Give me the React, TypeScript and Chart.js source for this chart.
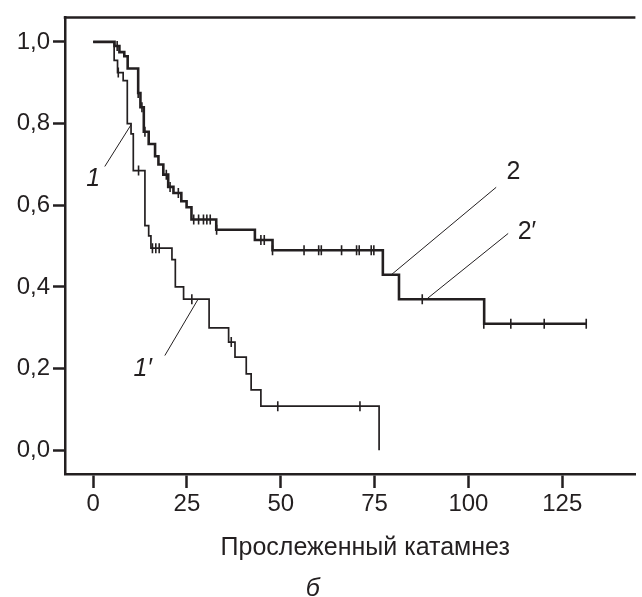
import React, { useEffect, useRef } from "react";
import { Chart, registerables } from "chart.js";

Chart.register(...registerables);

// Curve 2 (upper, thick) – Kaplan–Meier steps
const upperTimes = [0, 5.7, 7.0, 8.3, 9.2, 12.0, 12.6, 13.5, 14.8, 16.5, 17.4, 18.7, 20.0, 21.4, 23.5, 24.9, 26.2, 32.8, 43.1, 47.8, 77.2, 81.5, 104.2, 131.6];
const upperSurv = [1.0, 0.99, 0.975, 0.965, 0.935, 0.875, 0.84, 0.78, 0.75, 0.72, 0.7, 0.675, 0.645, 0.63, 0.61, 0.595, 0.565, 0.54, 0.515, 0.49, 0.43, 0.37, 0.31, 0.31];

// Curve 1 (lower, thin)
const lowerTimes = [0, 5.6, 6.5, 8.0, 9.1, 10.1, 10.7, 13.8, 14.8, 15.4, 21.0, 21.9, 24.1, 30.9, 36.1, 37.8, 40.8, 42.1, 44.7, 76.2];
const lowerSurv = [1.0, 0.955, 0.925, 0.905, 0.8, 0.775, 0.685, 0.55, 0.525, 0.495, 0.467, 0.4, 0.37, 0.3, 0.265, 0.228, 0.187, 0.148, 0.108, 0.0];

// Censored observations
const upperCensorTimes = [6.4, 12.0, 13.0, 13.8, 19.5, 20.5, 22.7, 26.8, 28.1, 29.4, 30.3, 31.2, 32.9, 44.7, 45.6, 47.8, 56.2, 60.1, 60.8, 66.2, 70.2, 70.9, 74.1, 74.8, 87.7, 104.1, 111.3, 120.2, 131.4];
const upperCensorSurv = [0.99, 0.875, 0.84, 0.78, 0.675, 0.645, 0.63, 0.565, 0.565, 0.565, 0.565, 0.565, 0.54, 0.515, 0.515, 0.49, 0.49, 0.49, 0.49, 0.49, 0.49, 0.49, 0.49, 0.49, 0.37, 0.31, 0.31, 0.31, 0.31];
const lowerCensorTimes = [6.7, 12.1, 15.8, 16.7, 17.6, 26.3, 36.8, 49.2, 71.1];
const lowerCensorSurv = [0.925, 0.685, 0.495, 0.495, 0.495, 0.37, 0.265, 0.108, 0.108];

// Leader lines for curve labels [t1, s1, t2, s2]
const leaderLines = [
  [3.1, 0.695, 10.1, 0.797],
  [19.1, 0.232, 27.9, 0.369],
  [107.4, 0.644, 79.6, 0.431],
  [110.6, 0.531, 89.1, 0.372],
];
const curveLabels = ["1", "1′", "2", "2′"];
const curveLabelTimes = [0, 13.2, 112, 115.6];
const curveLabelSurv = [0.665, 0.198, 0.682, 0.535];
const curveLabelItalic = [true, true, false, false];

const xTickValues = [0, 25, 50, 75, 100, 125];
const yTickValues = [0, 0.2, 0.4, 0.6, 0.8, 1.0];
const xTitle = "Прослеженный катамнез";
const caption = "б";

const INK = "#231f20";
const FONT = '"Liberation Sans", Arial, sans-serif';

export default function App() {
  const ref = useRef<HTMLCanvasElement | null>(null);

  useEffect(() => {
    document.body.style.margin = "0";
    const canvas = ref.current;
    if (!canvas) return;

    const toPts = (xs: number[], ys: number[]) => xs.map((x, i) => ({ x, y: ys[i] }));

    const textPlugin = {
      id: "textPlugin",
      afterDraw(chart: any) {
        const { ctx, chartArea, scales } = chart;
        const xs = scales.x;
        const ys = scales.y;
        ctx.save();
        // top frame line
        ctx.strokeStyle = INK;
        ctx.lineWidth = 2.5;
        ctx.beginPath();
        ctx.moveTo(chartArea.left - 1.25, chartArea.top);
        ctx.lineTo(chartArea.right, chartArea.top);
        ctx.stroke();
        // curve labels
        ctx.fillStyle = INK;
        ctx.textAlign = "center";
        ctx.textBaseline = "middle";
        curveLabels.forEach((lab, i) => {
          ctx.font = (curveLabelItalic[i] ? "italic " : "") + "25px " + FONT;
          ctx.fillText(lab, xs.getPixelForValue(curveLabelTimes[i]), ys.getPixelForValue(curveLabelSurv[i]));
        });
        // axis title and caption
        ctx.font = "25px " + FONT;
        ctx.fillText(xTitle, xs.getPixelForValue(72.5), chartArea.bottom + 74);
        ctx.font = "italic 25px " + FONT;
        ctx.fillText(caption, xs.getPixelForValue(58.5), chartArea.bottom + 115);
        ctx.restore();
      },
    };

    const leaderSets = leaderLines.map((l) => ({
      data: [
        { x: l[0], y: l[1] },
        { x: l[2], y: l[3] },
      ],
      borderColor: INK,
      borderWidth: 1,
      pointRadius: 0,
      showLine: true,
    }));

    const chart = new Chart(canvas, {
      type: "line",
      data: {
        datasets: [
          ...leaderSets,
          {
            data: toPts(upperTimes, upperSurv),
            stepped: "before",
            borderColor: INK,
            borderWidth: 2.6,
            pointRadius: 0,
          },
          {
            data: toPts(lowerTimes, lowerSurv),
            stepped: "before",
            borderColor: INK,
            borderWidth: 1.7,
            pointRadius: 0,
          },
          {
            data: toPts(upperCensorTimes, upperCensorSurv),
            showLine: false,
            pointStyle: "line",
            rotation: 90,
            pointRadius: 5,
            pointBorderWidth: 1.6,
            pointBorderColor: INK,
            borderColor: INK,
          },
          {
            data: toPts(lowerCensorTimes, lowerCensorSurv),
            showLine: false,
            pointStyle: "line",
            rotation: 90,
            pointRadius: 5,
            pointBorderWidth: 1.6,
            pointBorderColor: INK,
            borderColor: INK,
          },
        ] as any,
      },
      options: {
        responsive: false,
        animation: false,
        layout: { padding: { top: 17, right: 0, left: 0, bottom: 0 } },
        plugins: {
          legend: { display: false },
          tooltip: { enabled: false },
          title: { display: false },
        },
        scales: {
          x: {
            type: "linear",
            min: -7.5,
            max: 144.5,
            afterBuildTicks: (s: any) => {
              s.ticks = xTickValues.map((v) => ({ value: v }));
            },
            afterFit: (s: any) => {
              s.height = 123;
            },
            grid: {
              display: true,
              drawOnChartArea: false,
              drawTicks: true,
              tickLength: 14,
              tickWidth: 2.5,
              tickColor: INK,
            },
            border: { display: true, color: INK, width: 2.5 },
            ticks: {
              color: INK,
              font: { family: FONT, size: 24 },
              padding: 2,
              maxRotation: 0,
              autoSkip: false,
            },
          },
          y: {
            type: "linear",
            min: -0.058,
            max: 1.06,
            afterBuildTicks: (s: any) => {
              s.ticks = yTickValues.map((v) => ({ value: v }));
            },
            afterFit: (s: any) => {
              s.width = 65;
            },
            grid: {
              display: true,
              drawOnChartArea: false,
              drawTicks: true,
              tickLength: 12,
              tickWidth: 2.5,
              tickColor: INK,
            },
            border: { display: true, color: INK, width: 2.5 },
            ticks: {
              color: INK,
              font: { family: FONT, size: 24 },
              padding: 3,
              autoSkip: false,
              callback: (v: any) => Number(v).toFixed(1).replace(".", ","),
            },
          },
        },
      },
      plugins: [textPlugin],
    });

    return () => chart.destroy();
  }, []);

  return (
    <div style={{ width: 642, height: 597, background: "#fff" }}>
      <canvas ref={ref} width={642} height={597} style={{ display: "block" }} />
    </div>
  );
}
